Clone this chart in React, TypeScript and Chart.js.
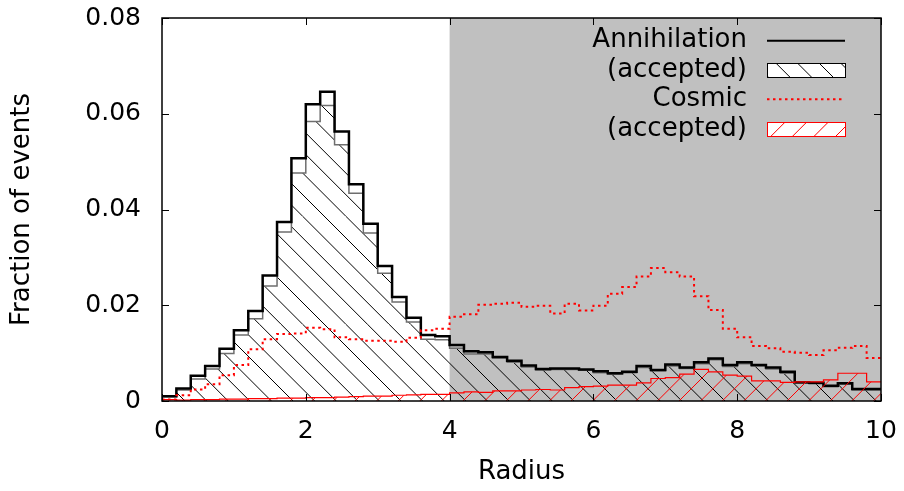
import React, { useEffect, useRef } from 'react';
import { Chart, registerables } from 'chart.js';

Chart.register(...registerables);

// Bin left edges (bin width 0.2) and the end of the range
const binEdges = [
  0, 0.2, 0.4, 0.6, 0.8, 1.0, 1.2, 1.4, 1.6, 1.8,
  2.0, 2.2, 2.4, 2.6, 2.8, 3.0, 3.2, 3.4, 3.6, 3.8,
  4.0, 4.2, 4.4, 4.6, 4.8, 5.0, 5.2, 5.4, 5.6, 5.8,
  6.0, 6.2, 6.4, 6.6, 6.8, 7.0, 7.2, 7.4, 7.6, 7.8,
  8.0, 8.2, 8.4, 8.6, 8.8, 9.0, 9.2, 9.4, 9.6, 9.8,
];
const rangeEnd = 10;
const shadeStart = 4;

const annihilationAll = [
  0.0010, 0.0026, 0.0053, 0.0073, 0.0109, 0.0148, 0.0188, 0.0262, 0.0374, 0.0507,
  0.0620, 0.0646, 0.0563, 0.0453, 0.0370, 0.0282, 0.0217, 0.0174, 0.0138, 0.0135,
  0.0117, 0.0104, 0.0102, 0.0092, 0.0084, 0.0074, 0.0067, 0.0068, 0.0068, 0.0066,
  0.0062, 0.0058, 0.0061, 0.0073, 0.0065, 0.0076, 0.0070, 0.0081, 0.0089, 0.0075,
  0.0081, 0.0075, 0.0070, 0.0061, 0.0039, 0.0038, 0.0032, 0.0037, 0.0025, 0.0025,
];
const annihilationAccepted = [
  0.0009, 0.0023, 0.0046, 0.0067, 0.0099, 0.0138, 0.0172, 0.0240, 0.0353, 0.0476,
  0.0584, 0.0617, 0.0535, 0.0434, 0.0351, 0.0267, 0.0207, 0.0165, 0.0129, 0.0128,
  0.0110, 0.0098, 0.0098, 0.0090, 0.0081, 0.0071, 0.0065, 0.0066, 0.0066, 0.0064,
  0.0059, 0.0056, 0.0059, 0.0070, 0.0063, 0.0073, 0.0068, 0.0078, 0.0086, 0.0072,
  0.0078, 0.0073, 0.0067, 0.0058, 0.0037, 0.0036, 0.0030, 0.0035, 0.0023, 0.0023,
];
const cosmicAll = [
  0.0003, 0.0012, 0.0024, 0.0035, 0.0054, 0.0075, 0.0108, 0.0129, 0.0140, 0.0141,
  0.0153, 0.0150, 0.0133, 0.0129, 0.0126, 0.0126, 0.0124, 0.0132, 0.0148, 0.0151,
  0.0176, 0.0181, 0.0201, 0.0203, 0.0205, 0.0197, 0.0199, 0.0183, 0.0203, 0.0189,
  0.0199, 0.0224, 0.0238, 0.0260, 0.0278, 0.0269, 0.0260, 0.0219, 0.0190, 0.0151,
  0.0133, 0.0115, 0.0110, 0.0103, 0.0101, 0.0096, 0.0106, 0.0111, 0.0115, 0.0090,
];
const cosmicAccepted = [
  0.0003, 0.0002, 0.0003, 0.0003, 0.0004, 0.0004, 0.0005, 0.0005, 0.0006, 0.0006,
  0.0007, 0.0007, 0.0008, 0.0009, 0.0010, 0.0010, 0.0012, 0.0013, 0.0014, 0.0014,
  0.0017, 0.0019, 0.0018, 0.0021, 0.0021, 0.0023, 0.0024, 0.0023, 0.0028, 0.0030,
  0.0031, 0.0033, 0.0033, 0.0038, 0.0047, 0.0049, 0.0056, 0.0066, 0.0061, 0.0054,
  0.0052, 0.0042, 0.0042, 0.0039, 0.0040, 0.0040, 0.0044, 0.0058, 0.0058, 0.0040,
];

const xTickLabels = ['0', '2', '4', '6', '8', '10'];
const yTickLabels = ['0', '0.02', '0.04', '0.06', '0.08'];
const legendLabels = ['Annihilation', '(accepted)', 'Cosmic', '(accepted)'];

const FONT = 'DejaVu Sans';

function stepPoints(vals: number[]) {
  const pts = vals.map((v, i) => ({ x: binEdges[i], y: v }));
  pts.push({ x: rangeEnd, y: vals[vals.length - 1] });
  return pts;
}

function makeHatch(color: string, dir: 'back' | 'fwd'): CanvasPattern {
  const S = 108;
  const P = 21.6;
  const c = document.createElement('canvas');
  c.width = S;
  c.height = S;
  const g = c.getContext('2d')!;
  g.strokeStyle = color;
  g.lineWidth = 1;
  g.beginPath();
  for (let k = -6; k <= 6; k++) {
    const o = k * P;
    if (dir === 'back') {
      g.moveTo(o, 0);
      g.lineTo(o + S, S);
    } else {
      g.moveTo(o, S);
      g.lineTo(o + S, 0);
    }
  }
  g.stroke();
  return g.createPattern(c, 'repeat')!;
}

export default function App() {
  const ref = useRef<HTMLCanvasElement>(null);

  useEffect(() => {
    const canvas = ref.current!;
    const ctx = canvas.getContext('2d')!;
    const blackHatch = makeHatch('#000000', 'back');
    const redHatch = makeHatch('#ff0000', 'fwd');

    const shadePlugin = {
      id: 'shade',
      beforeDatasetsDraw(chart: any) {
        const { ctx: c, chartArea: a, scales } = chart;
        const x0 = scales.x.getPixelForValue(shadeStart);
        const x1 = scales.x.getPixelForValue(rangeEnd);
        c.save();
        c.fillStyle = '#c0c0c0';
        c.fillRect(x0, a.top, x1 - x0, a.bottom - a.top);
        c.restore();
      },
    };

    const framePlugin = {
      id: 'frame',
      afterDatasetsDraw(chart: any) {
        const { ctx: c, chartArea: a, scales } = chart;
        c.save();
        c.strokeStyle = '#000';
        c.lineWidth = 1;
        const tl = 7;
        c.beginPath();
        scales.x.ticks.forEach((t: any) => {
          const px = Math.round(scales.x.getPixelForValue(t.value)) + 0.5;
          c.moveTo(px, a.bottom);
          c.lineTo(px, a.bottom - tl);
          c.moveTo(px, a.top);
          c.lineTo(px, a.top + tl);
        });
        scales.y.ticks.forEach((t: any) => {
          const py = Math.round(scales.y.getPixelForValue(t.value)) + 0.5;
          c.moveTo(a.left, py);
          c.lineTo(a.left + tl, py);
          c.moveTo(a.right, py);
          c.lineTo(a.right - tl, py);
        });
        c.stroke();
        c.lineWidth = 1.5;
        c.strokeRect(a.left, a.top, a.right - a.left, a.bottom - a.top);

        // legend
        const textRight = 747;
        const sx0 = 767;
        const sx1 = 845;
        const rows = [40.7, 70, 99.3, 129];
        c.font = `26px "${FONT}"`;
        c.fillStyle = '#000';
        c.textAlign = 'right';
        c.textBaseline = 'middle';
        legendLabels.forEach((lab, i) => c.fillText(lab, textRight, rows[i]));

        // row 1: black line
        c.beginPath();
        c.strokeStyle = '#000';
        c.lineWidth = 2;
        c.moveTo(sx0, rows[0]);
        c.lineTo(sx1, rows[0]);
        c.stroke();
        // row 2: hatched box
        c.fillStyle = '#fff';
        c.fillRect(sx0, rows[1] - 7, sx1 - sx0, 14);
        c.fillStyle = blackHatch;
        c.fillRect(sx0, rows[1] - 7, sx1 - sx0, 14);
        c.lineWidth = 1;
        c.strokeStyle = '#000';
        c.strokeRect(sx0 + 0.5, rows[1] - 7 + 0.5, sx1 - sx0, 14);
        // row 3: red dotted
        c.beginPath();
        c.strokeStyle = '#ff0000';
        c.lineWidth = 2;
        c.setLineDash([2.5, 3.5]);
        c.moveTo(sx0, rows[2]);
        c.lineTo(sx1, rows[2]);
        c.stroke();
        c.setLineDash([]);
        // row 4: red hatched box
        c.fillStyle = '#fff';
        c.fillRect(sx0, rows[3] - 7, sx1 - sx0, 14);
        c.fillStyle = redHatch;
        c.fillRect(sx0, rows[3] - 7, sx1 - sx0, 14);
        c.lineWidth = 1;
        c.strokeStyle = '#ff0000';
        c.strokeRect(sx0 + 0.5, rows[3] - 7 + 0.5, sx1 - sx0, 14);
        c.restore();
      },
    };

    const common = {
      stepped: 'before' as const,
      pointRadius: 0,
      tension: 0,
    };

    const chart = new Chart(ctx, {
      type: 'line',
      data: {
        datasets: [
          {
            ...common,
            label: 'Cosmic',
            data: stepPoints(cosmicAll),
            borderColor: '#ff0000',
            borderWidth: 2,
            borderDash: [2.5, 3.5],
            fill: false,
            order: 0,
          },
          {
            ...common,
            label: 'Cosmic (accepted)',
            data: stepPoints(cosmicAccepted),
            borderColor: '#ff0000',
            borderWidth: 1.2,
            backgroundColor: redHatch,
            fill: 'origin',
            order: 1,
          },
          {
            ...common,
            label: 'Annihilation',
            data: stepPoints(annihilationAll),
            borderColor: '#000000',
            borderWidth: 2.5,
            fill: false,
            order: 2,
          },
          {
            ...common,
            label: 'Annihilation (accepted)',
            data: stepPoints(annihilationAccepted),
            borderColor: '#6e6e6e',
            borderWidth: 1.5,
            backgroundColor: blackHatch,
            fill: 'origin',
            order: 3,
          },
        ],
      },
      options: {
        animation: false,
        responsive: false,
        devicePixelRatio: 1,
        layout: { padding: { top: 18, right: 23, left: 0, bottom: 0 } },
        plugins: {
          legend: { display: false },
          tooltip: { enabled: false },
        },
        scales: {
          x: {
            type: 'linear',
            min: 0,
            max: rangeEnd,
            afterFit: (s: any) => {
              s.height = 90;
            },
            grid: { display: false, drawTicks: true, tickLength: 15 },
            border: { display: false },
            ticks: {
              stepSize: 2,
              padding: 0,
              color: '#000',
              font: { family: FONT, size: 25 },
              maxRotation: 0,
              callback: (_v: any, i: number) => xTickLabels[i],
            },
            title: {
              display: true,
              text: 'Radius',
              color: '#000',
              font: { family: FONT, size: 26 },
              padding: { top: 0, bottom: 3 },
            },
          },
          y: {
            type: 'linear',
            min: 0,
            max: 0.08,
            afterFit: (s: any) => {
              s.width = 162;
            },
            grid: { display: false, drawTicks: true, tickLength: 21 },
            border: { display: false },
            ticks: {
              stepSize: 0.02,
              padding: 0,
              color: '#000',
              font: { family: FONT, size: 25 },
              callback: (_v: any, i: number) => yTickLabels[i],
            },
            title: {
              display: true,
              text: 'Fraction of events',
              color: '#000',
              font: { family: FONT, size: 26 },
              padding: { top: 7, bottom: 0 },
            },
          },
        },
      },
      plugins: [shadePlugin, framePlugin],
    });
    return () => chart.destroy();
  }, []);

  return (
    <div style={{ position: 'absolute', left: 0, top: 0, width: 904, height: 491, background: '#fff' }}>
      <canvas ref={ref} width={904} height={491} style={{ display: 'block', width: 904, height: 491 }} />
    </div>
  );
}
